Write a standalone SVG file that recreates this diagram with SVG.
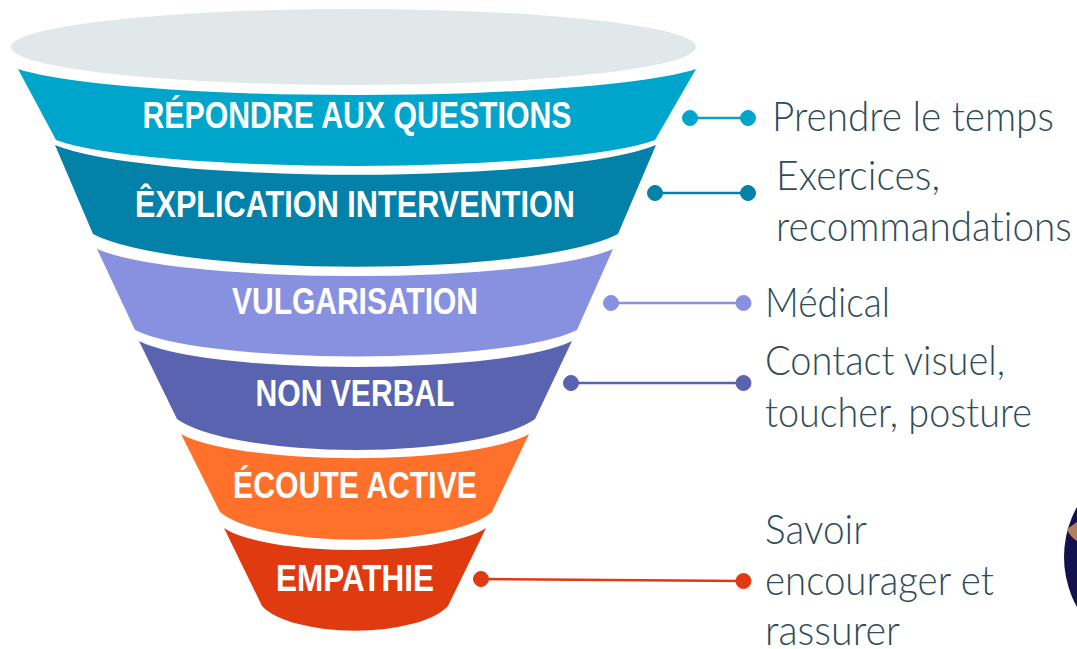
<svg xmlns="http://www.w3.org/2000/svg" width="1077" height="649" viewBox="0 0 1077 649">
<style>
.t{font-family:"Liberation Sans",sans-serif;font-weight:700;font-size:37px;fill:#fff;text-anchor:middle}
.l{font-family:Lato,"Liberation Sans",sans-serif;font-weight:300;font-size:42px;fill:#2f4c59;font-variant-ligatures:none}
.c{stroke-width:2.5;fill:none}
</style>
<rect width="1077" height="649" fill="#fff"/>
<ellipse id="top" cx="353.500" cy="47" rx="342.500" ry="38" fill="#e1e8ea"/>
<g id="n1"><path d="M18 69A356 37.400 0 0 0 696 69L655 140A314 37 0 0 1 56 140Z" fill="#00a5cc"/><text class="t" x="357" y="128" textLength="429" lengthAdjust="spacingAndGlyphs">RÉPONDRE AUX QUESTIONS</text></g>
<g id="n2"><path d="M55 145A316 43 0 0 0 656 145L618 234A276 47.500 0 0 1 93 234Z" fill="#0481a8"/><text class="t" x="355" y="217" textLength="440" lengthAdjust="spacingAndGlyphs">ÊXPLICATION INTERVENTION</text></g>
<g id="n3"><path d="M97 249A271 39 0 0 0 613 249L577 330A232 38 0 0 1 135 330Z" fill="#8891e0"/><text class="t" x="355" y="314" textLength="246" lengthAdjust="spacingAndGlyphs">VULGARISATION</text></g>
<g id="n4"><path d="M139 341A227 37 0 0 0 572 341L535 419A188 44.500 0 0 1 177 419Z" fill="#5a63b0"/><text class="t" x="355" y="406" textLength="199" lengthAdjust="spacingAndGlyphs">NON VERBAL</text></g>
<g id="n5"><path d="M181 434A183 35 0 0 0 529 434L492 512A143 40 0 0 1 220 512Z" fill="#ff702b"/><text class="t" x="355" y="498" textLength="244" lengthAdjust="spacingAndGlyphs">ÉCOUTE ACTIVE</text></g>
<g id="n6"><path d="M224 528A138 32 0 0 0 486 528L448 606A98 36 0 0 1 262 606Z" fill="#e03b10"/><text class="t" x="355" y="591" textLength="158" lengthAdjust="spacingAndGlyphs">EMPATHIE</text></g>
<g id="connectors">
<g stroke="#00a5cc" fill="#00a5cc"><path class="c" d="M690 118H748"/><circle cx="690" cy="118" r="7.500"/><circle cx="748" cy="118" r="7.500"/></g>
<g stroke="#0481a8" fill="#0481a8"><path class="c" d="M655 193H748"/><circle cx="655" cy="193" r="7.500"/><circle cx="748" cy="193" r="7.500"/></g>
<g stroke="#8891e0" fill="#8891e0"><path class="c" d="M611 303H743"/><circle cx="611" cy="303" r="7.500"/><circle cx="743.500" cy="303" r="7.500"/></g>
<g stroke="#5a63b0" fill="#5a63b0"><path class="c" d="M571 383H743"/><circle cx="571" cy="383" r="7.500"/><circle cx="743.500" cy="383" r="7.500"/></g>
<g stroke="#e03b10" fill="#e03b10"><path class="c" d="M481 579L743 581"/><circle cx="481" cy="579" r="7.500"/><circle cx="743.500" cy="581" r="7.500"/></g>
</g>
<g id="labels">
<text class="l" transform="matrix(.87 0 0 1 772 131)" textLength="324" lengthAdjust="spacingAndGlyphs">Prendre le temps</text>
<text class="l" transform="matrix(.87 0 0 1 776 190)" textLength="188.500" lengthAdjust="spacingAndGlyphs">Exercices,</text>
<text class="l" transform="matrix(.87 0 0 1 776 241)" textLength="340" lengthAdjust="spacingAndGlyphs">recommandations</text>
<text class="l" transform="matrix(.87 0 0 1 765 317)" textLength="143.700" lengthAdjust="spacingAndGlyphs">Médical</text>
<text class="l" transform="matrix(.87 0 0 1 765 375)" textLength="275.900" lengthAdjust="spacingAndGlyphs">Contact visuel,</text>
<text class="l" transform="matrix(.87 0 0 1 765 427)" textLength="306.900" lengthAdjust="spacingAndGlyphs">toucher, posture</text>
<text class="l" transform="matrix(.87 0 0 1 765 544)" textLength="117.200" lengthAdjust="spacingAndGlyphs">Savoir</text>
<text class="l" transform="matrix(.87 0 0 1 765 595)" textLength="263.200" lengthAdjust="spacingAndGlyphs">encourager et</text>
<text class="l" transform="matrix(.87 0 0 1 765 645)" textLength="155.200" lengthAdjust="spacingAndGlyphs">rassurer</text>
</g>
<g id="photo"><circle cx="1167" cy="557" r="103" fill="#13124f"/><path d="M1067 529L1077 522V541Q1070 537 1067 529Z" fill="#b08058"/></g>
</svg>
